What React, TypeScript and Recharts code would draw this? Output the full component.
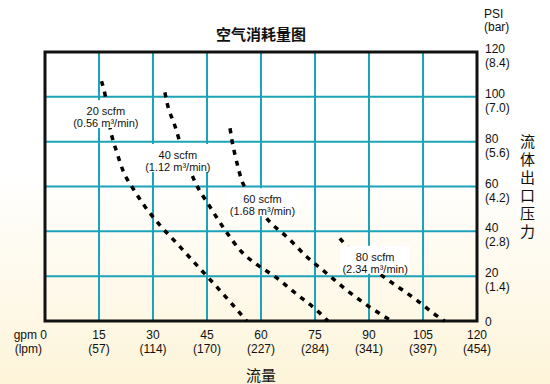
import React from 'react';
import { LineChart, Line, XAxis, YAxis, CartesianGrid, ReferenceArea, ReferenceDot } from 'recharts';

// axis ticks
const gpmTicks = [0, 15, 30, 45, 60, 75, 90, 105, 120];
const lpmLabels = ['(lpm)', '(57)', '(114)', '(170)', '(227)', '(284)', '(341)', '(397)', '(454)'];
const psiTicks = [0, 20, 40, 60, 80, 100, 120];
const barLabels = ['', '(1.4)', '(2.8)', '(4.2)', '(5.6)', '(7.0)', '(8.4)'];

// air consumption curves (gpm vs psi)
const gpm20 = [15.7, 16.8, 18.1, 20, 21.8, 24.5, 27.8, 31.9, 36.6, 41.7, 46.7, 51.4, 56];
const psi20 = [107, 100, 86, 75, 66.6, 59, 51, 42.8, 34.7, 25.7, 17, 8.6, 0];
const gpm40 = [33.3, 33.8, 36.1, 38, 41.7, 45.8, 50, 54.6, 59, 63.9, 69.5, 75.9, 78.6];
const psi40 = [102, 98, 87, 77, 62, 51, 40.6, 30.9, 25, 19.8, 12.5, 4.2, 0];
const gpm60 = [51.4, 52, 52.8, 53.7, 54.6, 56, 62, 67.6, 72.7, 78.2, 83.8, 89.4, 96.3];
const psi60 = [86, 80, 74, 68.1, 62.9, 58.4, 45, 36.9, 28.7, 21.3, 13.8, 7.1, 0];
const gpm80 = [81.9, 84.7, 94, 98.6, 103.2, 107.9, 111];
const psi80 = [36.9, 31.7, 19.8, 14.6, 9.4, 3.4, 0];

// curve captions
const scfmNames = ['20 scfm', '40 scfm', '60 scfm', '80 scfm'];
const metricNames = ['(0.56 m³/min)', '(1.12 m³/min)', '(1.68 m³/min)', '(2.34 m³/min)'];
const captionGpm = [16.9, 36.9, 60.4, 91.7];
const captionPsi = [92.3, 72.7, 53, 27.3];

const toPoints = (xs: number[], ys: number[]) => xs.map((gpm, i) => ({ gpm, psi: ys[i] }));

const curves = [
  toPoints(gpm20, psi20),
  toPoints(gpm40, psi40),
  toPoints(gpm60, psi60),
  toPoints(gpm80, psi80),
];

const GRID = '#1ba3b8';
const FONT = '"Liberation Sans", Arial, sans-serif';
const CJK = '"Noto Sans CJK SC", sans-serif';

const BottomTick = (props: any) => {
  const { x, y, payload } = props;
  const i = gpmTicks.indexOf(payload.value);
  if (payload.value === 0) {
    return (
      <g fontSize={12} fill="#111" fontFamily={FONT}>
        <text x={x + 2} y={y + 18} textAnchor="end" fill="#111">gpm 0</text>
        <text x={x - 3} y={y + 32} textAnchor="end" fill="#111">{lpmLabels[i]}</text>
      </g>
    );
  }
  return (
    <g fontSize={12} fontFamily={FONT}>
      <text x={x} y={y + 18} textAnchor="middle" fill="#111">{payload.value}</text>
      <text x={x} y={y + 32} textAnchor="middle" fill="#111">{lpmLabels[i]}</text>
    </g>
  );
};

const RightTick = (props: any) => {
  const { x, y, payload } = props;
  const i = psiTicks.indexOf(payload.value);
  if (payload.value === 0) {
    return (
      <text x={x} y={y + 5} textAnchor="start" fontSize={12} fontFamily={FONT} fill="#111">0</text>
    );
  }
  return (
    <g fontSize={12} fontFamily={FONT}>
      <text x={x} y={y + 1} textAnchor="start" fill="#111">{payload.value}</text>
      <text x={x} y={y + 15} textAnchor="start" fill="#111">{barLabels[i]}</text>
    </g>
  );
};

const Caption = (idx: number) => (props: any) => {
  const { cx, cy } = props;
  if (cx == null || cy == null) return null;
  return (
    <g fontFamily={FONT} fontSize={11}>
      <rect x={cx - 35} y={cy - 14} width={70} height={28} fill="#ffffff" />
      <text x={cx} y={cy + 1} textAnchor="middle" fill="#111">{scfmNames[idx]}</text>
      <text x={cx} y={cy + 13} textAnchor="middle" fill="#111">{metricNames[idx]}</text>
    </g>
  );
};

export default function App() {
  return (
    <div
      style={{
        position: 'absolute',
        left: 0,
        top: 0,
        width: 550,
        height: 384,
        overflow: 'hidden',
        fontFamily: FONT,
        background: 'linear-gradient(to bottom, #ffffff 0%, #ffffff 45%, #fdf4d9 100%)',
      }}
    >
      <div style={{ position: 'absolute', left: 0, width: 522, top: 24, textAlign: 'center', fontSize: 15, fontWeight: 'bold', color: '#111', fontFamily: CJK, lineHeight: '20px' }}>
        空气消耗量图
      </div>
      <div style={{ position: 'absolute', left: 484, top: 8, fontSize: 12, lineHeight: '13px', color: '#111' }}>
        PSI<br />(bar)
      </div>
      <div style={{ position: 'absolute', left: 0, width: 522, top: 365, textAlign: 'center', fontSize: 15, color: '#111', fontFamily: CJK, lineHeight: '20px' }}>
        流量
      </div>
      <div style={{ position: 'absolute', left: 517, top: 134, width: 20, fontSize: 15, lineHeight: '20px', letterSpacing: 3, color: '#111', fontFamily: CJK, writingMode: 'vertical-rl' }}>
        流体出口压力
      </div>
      <div style={{ position: 'absolute', left: 0, top: 0 }}>
        <LineChart width={550} height={384} margin={{ top: 52, left: 45, right: 13, bottom: 13 }}>
          <CartesianGrid stroke={GRID} strokeWidth={2} horizontal vertical />
          <XAxis
            dataKey="gpm"
            type="number"
            domain={[0, 120]}
            ticks={gpmTicks}
            allowDuplicatedCategory={false}
            height={50}
            tickSize={0}
            tickMargin={0}
            axisLine={false}
            tickLine={false}
            tick={<BottomTick />}
            interval={0}
          />
          <YAxis
            orientation="right"
            type="number"
            domain={[0, 120]}
            ticks={psiTicks}
            width={60}
            tickSize={0}
            tickMargin={8}
            axisLine={false}
            tickLine={false}
            tick={<RightTick />}
            interval={0}
          />
          <ReferenceArea x1={0} x2={120} y1={0} y2={120} fill="none" stroke="#111" strokeWidth={3} />
          {curves.map((pts, i) => (
            <Line
              key={i}
              data={pts}
              dataKey="psi"
              type="monotone"
              stroke="#000"
              strokeWidth={3.5}
              strokeDasharray="5 6"
              dot={false}
              activeDot={false}
              isAnimationActive={false}
            />
          ))}
          {scfmNames.map((n, i) => (
            <ReferenceDot key={n} x={captionGpm[i]} y={captionPsi[i]} r={1} shape={Caption(i)} />
          ))}
        </LineChart>
      </div>
    </div>
  );
}
